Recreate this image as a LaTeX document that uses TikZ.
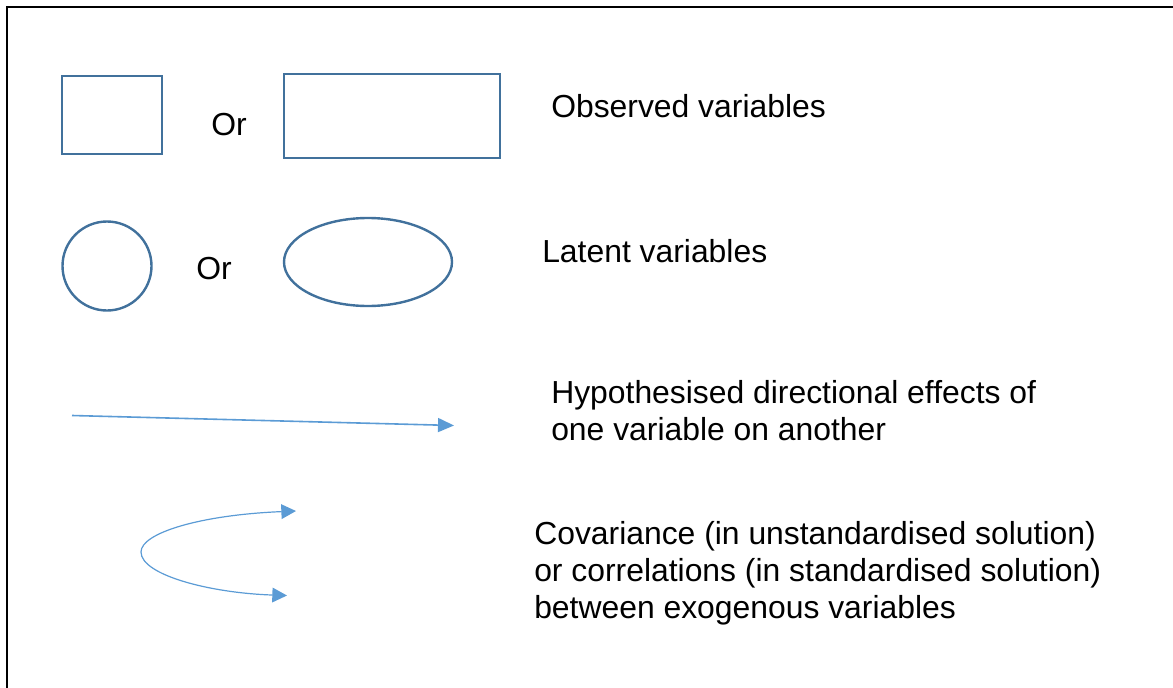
\documentclass[tikz,border=0pt]{standalone}
\usepackage{fontspec}
\setmainfont{Liberation Sans}
\usetikzlibrary{shapes.geometric,arrows.meta}
\definecolor{shapeblue}{HTML}{41719C}
\definecolor{arrowblue}{HTML}{5B9BD5}
\tikzset{
  label text/.style={anchor=base west, inner sep=0pt, align=left,
    font=\fontsize{23.9}{27.6}\selectfont},
  obsbox/.style={draw=shapeblue, line width=1.8pt, rectangle, inner sep=0pt},
  latent/.style={draw=shapeblue, line width=1.8pt, inner sep=0pt},
  effect/.style={draw=arrowblue, line width=1.2pt,
    -{Triangle[length=12pt,width=10.5pt]}},
  covar/.style={draw=arrowblue, line width=0.9pt,
    {Triangle[length=11pt,width=11pt]}-{Triangle[length=11pt,width=11pt]}}
}
\begin{document}
\begin{tikzpicture}[x=0.75pt,y=-0.75pt]
  \clip (0,0) rectangle (1173,688);
  % outer frame (runs off the page on the right and bottom)
  \draw[line width=1.5pt] (6.5,7.5) rectangle (1200,720);

  % observed variables
  \node[obsbox, minimum width=75pt, minimum height=58.5pt] (sq) at (112,115) {};
  \node[label text] (or1) at (211,136) {Or};
  \node[obsbox, minimum width=162pt, minimum height=63pt] (rect) at (392,116) {};
  \node[label text] (obs) at (551,118) {Observed variables};

  % latent variables
  \node[latent, circle, minimum size=66.75pt] (circ) at (107,266) {};
  \node[label text] (or2) at (196,279) {Or};
  \node[latent, ellipse, minimum width=126pt, minimum height=66pt] (ell) at (368,262) {};
  \node[label text] (lat) at (542,262) {Latent variables};

  % directional effect
  \coordinate (efrom) at (72,415.5);
  \coordinate (eto) at (454,425.5);
  \draw[effect] (efrom) -- (eto);
  % base anchor of a multi-line node sits on its last line
  \node[label text] (hyp) at (551,440)
    {Hypothesised directional effects of\\one variable on another};

  % covariance / correlation
  \coordinate (ctop) at (296,511);
  \coordinate (cleft) at (141,552);
  \coordinate (cbot) at (287,595.5);
  \draw[covar] (ctop) .. controls (200,515) and (141,533) .. (cleft)
    .. controls (141,575) and (210,593) .. (cbot);
  \node[label text] (cov) at (534,618)
    {Covariance (in unstandardised solution)\\or correlations (in standardised solution)\\between exogenous variables};
\end{tikzpicture}
\end{document}
